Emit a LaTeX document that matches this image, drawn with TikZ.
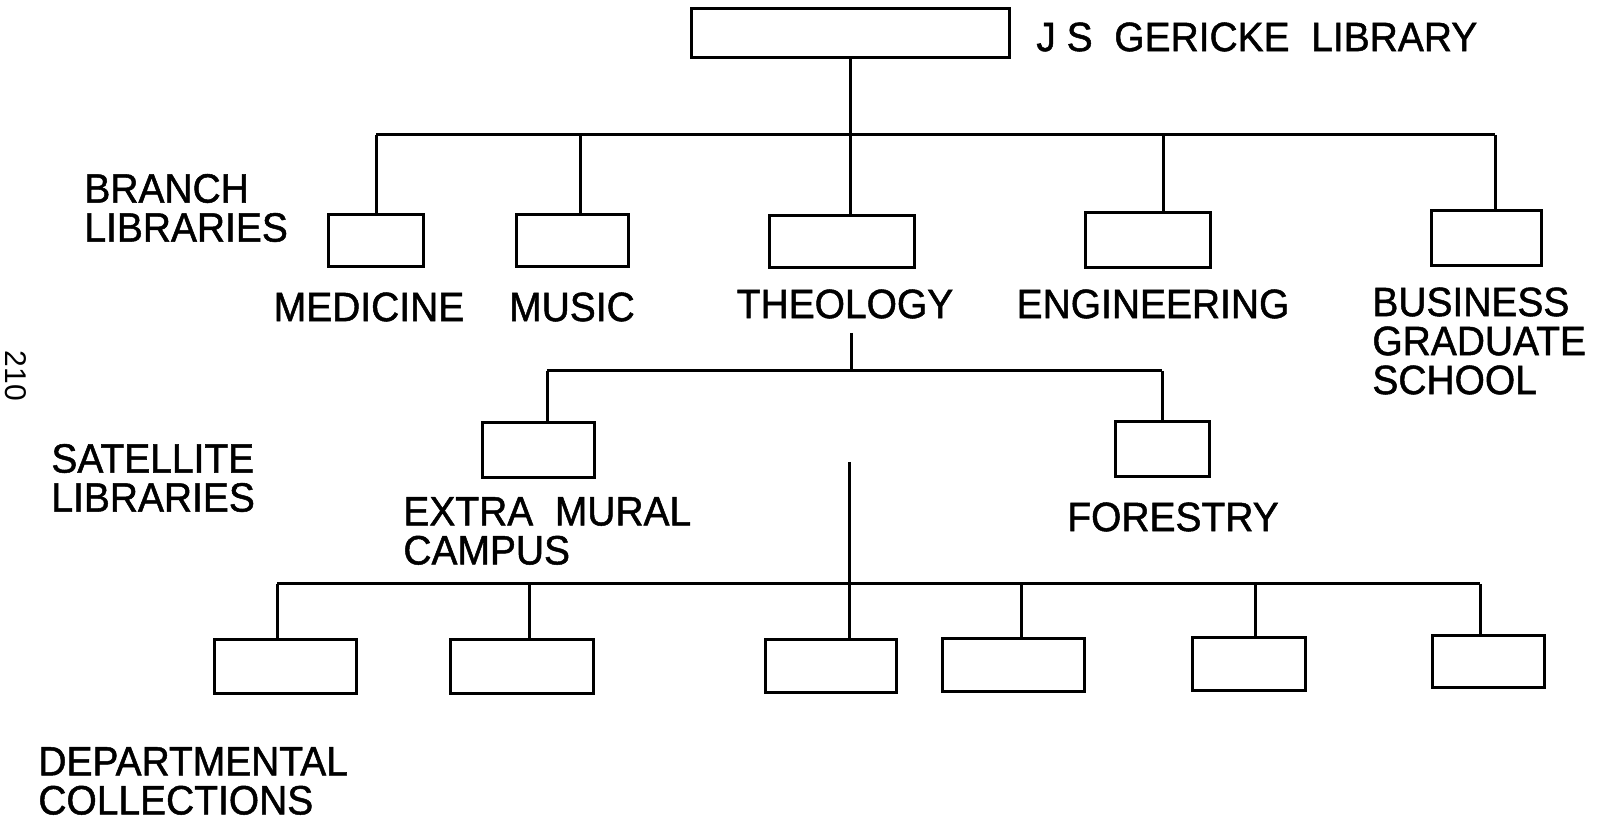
\documentclass[tikz,border=0pt]{standalone}
\usepackage{fontspec}
\setmainfont{Liberation Sans}[FakeStretch=0.95, FakeBold=1.2]
\newfontfamily\pagefont{Liberation Sans}
\begin{document}
\begin{tikzpicture}[x=0.5pt,y=-0.5pt,
  box/.style={draw, line width=1.5pt, inner sep=0pt},
  wire/.style={line width=1.5pt},
  lab/.style={font=\fontsize{20.5}{19.5}\selectfont, inner sep=0pt, align=left}]
\fill[white] (0,0) rectangle (1602,823);
\useasboundingbox (0,0) rectangle (1602,823);
% boxes
\node[box, minimum width=159pt, minimum height=24.5pt] (top) at (850,33.5) {};
\node[box, minimum width=47.5pt, minimum height=26pt] (med) at (375.5,241) {};
\node[box, minimum width=56pt, minimum height=26pt] (mus) at (572,241) {};
\node[box, minimum width=72.5pt, minimum height=26pt] (theo) at (841.5,242) {};
\node[box, minimum width=62.5pt, minimum height=27.5pt] (eng) at (1147.5,240.5) {};
\node[box, minimum width=55pt, minimum height=27.5pt] (bus) at (1486,238.5) {};
\node[box, minimum width=56pt, minimum height=27.5pt] (emc) at (538,450.5) {};
\node[box, minimum width=47pt, minimum height=27.5pt] (for) at (1162,449.5) {};
\node[box, minimum width=71pt, minimum height=27pt] (d1) at (285,666) {};
\node[box, minimum width=71.5pt, minimum height=27pt] (d2) at (521.5,666) {};
\node[box, minimum width=65.5pt, minimum height=26.5pt] (d3) at (830.5,665.5) {};
\node[box, minimum width=71pt, minimum height=26.5pt] (d4) at (1013,664.5) {};
\node[box, minimum width=56.5pt, minimum height=26.5pt] (d5) at (1248.5,663.5) {};
\node[box, minimum width=56pt, minimum height=26pt] (d6) at (1488,661) {};
% labels
\node[lab, anchor=west] (ljs) at (1036,37) {J S\ \ GERICKE\ \ LIBRARY};
\node[lab, anchor=west] (lbranch) at (84,208) {BRANCH\\LIBRARIES};
\node[lab] (lmed) at (369,307) {MEDICINE};
\node[lab] (lmus) at (572,307) {MUSIC};
\node[lab] (ltheo) at (845,304) {THEOLOGY};
\node[lab] (leng) at (1153,304) {ENGINEERING};
\node[lab, anchor=west] (lbus) at (1372,341) {BUSINESS\\GRADUATE\\SCHOOL};
\node[lab, anchor=west] (lsat) at (51,478) {SATELLITE\\LIBRARIES};
\node[lab, anchor=west] (lemc) at (403,531) {EXTRA\ \ MURAL\\CAMPUS};
\node[lab] (lfor) at (1173,517) {FORESTRY};
\node[lab, anchor=west] (ldep) at (38,781) {DEPARTMENTAL\\COLLECTIONS};
\node[rotate=-90, font=\pagefont\fontsize{15}{15}\selectfont, inner sep=0pt] (pg) at (16,376) {210};
% branch level
\coordinate (bL) at (376,135);
\coordinate (bMu) at (580,135);
\coordinate (bE) at (1163,135);
\coordinate (bR) at (1495,135);
\draw[wire] (top.south) -- (top.south |- theo.north);
\draw[wire] (bL) -- (bR);
\draw[wire] (bL) -- (bL |- med.north);
\draw[wire] (bMu) -- (bMu |- mus.north);
\draw[wire] (bE) -- (bE |- eng.north);
\draw[wire] (bR) -- (bR |- bus.north);
% satellite level
\coordinate (s0) at (851,333);
\coordinate (sL) at (547,371);
\coordinate (sR) at (1162,371);
\draw[wire] (s0) -- (s0 |- sL);
\draw[wire] (sL) -- (sR);
\draw[wire] (sL) -- (sL |- emc.north);
\draw[wire] (sR) -- (sR |- for.north);
% departmental level
\coordinate (t0) at (849,462);
\coordinate (tL) at (277,584);
\coordinate (t2) at (529,584);
\coordinate (t4) at (1021,584);
\coordinate (t5) at (1255,584);
\coordinate (tR) at (1480,584);
\draw[wire] (t0) -- (t0 |- d3.north);
\draw[wire] (tL) -- (tR);
\draw[wire] (tL) -- (tL |- d1.north);
\draw[wire] (t2) -- (t2 |- d2.north);
\draw[wire] (t4) -- (t4 |- d4.north);
\draw[wire] (t5) -- (t5 |- d5.north);
\draw[wire] (tR) -- (tR |- d6.north);
\end{tikzpicture}
\end{document}
